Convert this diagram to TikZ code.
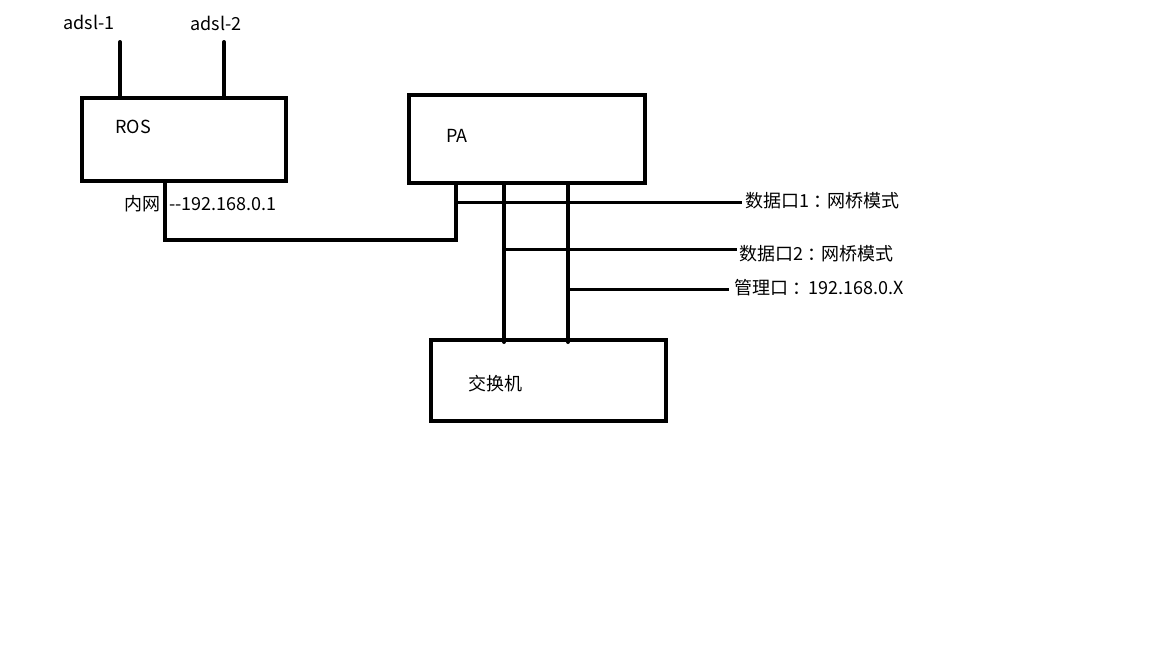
\documentclass[tikz,border=0pt]{standalone}
\usepackage{fontspec}
\setmainfont{Noto Sans CJK SC}
\usetikzlibrary{positioning,calc}

\begin{document}
\begin{tikzpicture}[x=1pt,y=-1pt,
  box/.style={draw,line width=4pt,inner sep=0pt},
  wire/.style={line width=4pt,line cap=round},
  tap/.style={line width=3pt},
  lbl/.style={inner sep=0pt,font=\fontsize{18}{21}\selectfont}]
\useasboundingbox (0,0) rectangle (1152,648);
% boxes
\node[box,minimum width=204pt,minimum height=83pt] (ros) at (183.5,139.5){};
\node[box,minimum width=236pt,minimum height=87.5pt] (pa) at (527,138.75){};
\node[box,minimum width=235pt,minimum height=81pt] (sw) at (548,380.5){};
\node[lbl] (roslbl) at (133,127){ROS};
\node[lbl] (palbl) at (457,136){PA};
\node[lbl] (swlbl) at (495,384){交换机};
% uplinks
\coordinate (adsla) at (120,42);
\coordinate (adslb) at (224,42);
\node[lbl] (adslalbl) at (89,22){adsl-1};
\node[lbl] (adslblbl) at (216,23){adsl-2};
\draw[wire] (adsla) -- (adsla |- ros.north);
\draw[wire] (adslb) -- (adslb |- ros.north);
% lan
\draw[wire] ([xshift=-18.5pt]ros.south) -- ++(0,56.5) -| ([xshift=-71.5pt]pa.south);
\node[lbl,anchor=west] (lanlbl) at (124,204){内网\hspace{9pt}-{}-192.168.0.1};
% pa ports
\coordinate (br) at ([xshift=-71.5pt]pa.south);
\coordinate (d2) at ([xshift=-23pt]pa.south);
\coordinate (mg) at ([xshift=41pt]pa.south);
\draw[wire] (d2) -- ([yshift=-4pt]d2 |- sw.north);
\draw[wire] (mg) -- ([yshift=-4pt]mg |- sw.north);
\coordinate (t1) at (742,202.5);
\coordinate (t2) at (737,249.5);
\coordinate (t3) at (729,289);
\draw[tap] (br |- t1) -- (t1) node[lbl,right=2pt,yshift=1.5pt] (p1){数据口1\hspace{4pt}：\hspace{-4pt}网桥模式};
\draw[tap] ([xshift=-2pt]d2 |- t2) -- (t2) node[lbl,right=1pt,yshift=-4.5pt] (p2){数据口2\hspace{4pt}：\hspace{-4pt}网桥模式};
\draw[tap] (mg |- t3) -- (t3) node[lbl,right=4pt,yshift=1pt] (p3){管理口\hspace{4pt}：\hspace{-2pt}192.168.0.X};
\end{tikzpicture}
\end{document}
